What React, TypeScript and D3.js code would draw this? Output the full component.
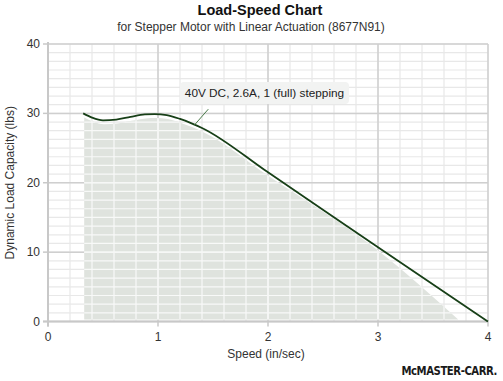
import React from "react";
import * as d3 from "d3";

const speeds = [0.32, 0.4, 0.5, 0.62, 0.75, 0.88, 0.97, 1.08, 1.2, 1.3, 1.4, 2, 3, 4];
const loads = [30, 29.4, 29.0, 29.1, 29.5, 29.85, 29.9, 29.75, 29.2, 28.6, 27.9, 21.5, 10.7, 0];
const xTicks = [0, 1, 2, 3, 4];
const yTicks = [0, 10, 20, 30, 40];
const title = "Load-Speed Chart";
const subtitle = "for Stepper Motor with Linear Actuation (8677N91)";
const seriesLabel = "40V DC, 2.6A, 1 (full) stepping";

export default function App() {
  const W = 503, H = 381;
  const x = d3.scaleLinear().domain([0, 4]).range([48, 488]);
  const y = d3.scaleLinear().domain([0, 40]).range([321.5, 44]);
  const pts = speeds.map((s, i) => [s, loads[i]] as [number, number]);
  const line = d3.line<[number, number]>().x(d => x(d[0])).y(d => y(d[1])).curve(d3.curveMonotoneX);
  const area = d3.area<[number, number]>()
    .x(d => x(d[0]) + 1)
    .y0(y(0) - 2)
    .y1(d => Math.min(y(d[1]) + 4, y(0) - 2))
    .curve(d3.curveMonotoneX);
  const fillPts = pts.map(p => [p[0], p[1]] as [number, number]);
  fillPts[fillPts.length - 1] = [3.72, 0];
  const xMinor = d3.range(0, 4.0001, 0.2);
  const yMinor = d3.range(0, 40.0001, 1.25);
  const font = "'Liberation Sans', Arial, Helvetica, sans-serif";
  const grid = (stroke: string, minorStroke: string) => (
    <g>
      {xMinor.map((v, i) => (
        <line key={"xm" + i} x1={x(v)} x2={x(v)} y1={y(40)} y2={y(0)} stroke={minorStroke} strokeWidth={1.2} />
      ))}
      {yMinor.map((v, i) => (
        <line key={"ym" + i} x1={x(0)} x2={x(4)} y1={y(v)} y2={y(v)} stroke={minorStroke} strokeWidth={1.2} />
      ))}
      {xTicks.map((v) => (
        <line key={"xM" + v} x1={x(v)} x2={x(v)} y1={y(40)} y2={y(0)} stroke={stroke} strokeWidth={1.5} />
      ))}
      {yTicks.map((v) => (
        <line key={"yM" + v} x1={x(0)} x2={x(4)} y1={y(v)} y2={y(v)} stroke={stroke} strokeWidth={1.5} />
      ))}
    </g>
  );
  const leaderX1 = x(1.33), leaderY1 = y(28.3);
  return (
    <svg width={W} height={H} style={{ position: "absolute", left: 0, top: 0 }} fontFamily={font}>
      <rect width={W} height={H} fill="#fff" />
      <text x={260} y={15} textAnchor="middle" fontSize={14.5} fontWeight="bold" fill="#111">{title}</text>
      <text x={251} y={31} textAnchor="middle" fontSize={12} fill="#333">{subtitle}</text>
      <defs>
        <clipPath id="fillClip">
          <path d={area(fillPts) || ""} />
        </clipPath>
      </defs>
      {grid("#cfcfcf", "#e8e8e8")}
      <path d={area(fillPts) || ""} fill="#dfe3de" />
      <g clipPath="url(#fillClip)">{grid("#f6f7f6", "#f8f9f8")}</g>
      <line x1={x(0)} x2={x(0)} y1={y(40) - 2} y2={y(0) + 5} stroke="#c8c8c8" strokeWidth={2} />
      <line x1={x(0) - 5} x2={x(4)} y1={y(0)} y2={y(0)} stroke="#c8c8c8" strokeWidth={2} />
      {yTicks.map(v => (
        <g key={"yt" + v}>
          <line x1={x(0) - 5} x2={x(0)} y1={y(v)} y2={y(v)} stroke="#c8c8c8" strokeWidth={1.5} />
          <text x={x(0) - 8} y={y(v) + 4} textAnchor="end" fontSize={12} fill="#333">{v}</text>
        </g>
      ))}
      {xTicks.map(v => (
        <g key={"xt" + v}>
          <line x1={x(v)} x2={x(v)} y1={y(0)} y2={y(0) + 5} stroke="#c8c8c8" strokeWidth={1.5} />
          <text x={x(v)} y={y(0) + 19} textAnchor="middle" fontSize={12} fill="#333">{v}</text>
        </g>
      ))}
      <path d={line(pts) || ""} fill="none" stroke="#173f17" strokeWidth={1.8} />
      <line x1={leaderX1} y1={leaderY1} x2={leaderX1 + 14} y2={leaderY1 - 16} stroke="#4a7a4a" strokeWidth={1} />
      <rect x={180} y={82} width={169} height={22} rx={4} fill="#f2f3f2" />
      <text x={264.5} y={97} textAnchor="middle" fontSize={11.8} fill="#222">{seriesLabel}</text>
      <text x={266} y={358} textAnchor="middle" fontSize={12} fill="#333">Speed (in/sec)</text>
      <text transform={`translate(14,${y(20)}) rotate(-90)`} textAnchor="middle" fontSize={12} fill="#333">Dynamic Load Capacity (lbs)</text>
      <g transform="translate(497,375) scale(0.9,1)">
        <text x={0} y={0} textAnchor="end" fontSize={12.5} fontWeight="bold" fontFamily="'DejaVu Sans Condensed', 'Liberation Sans Narrow', sans-serif" fill="#1a1a1a" letterSpacing={-0.5}>McMASTER-CARR.</text>
      </g>
    </svg>
  );
}
